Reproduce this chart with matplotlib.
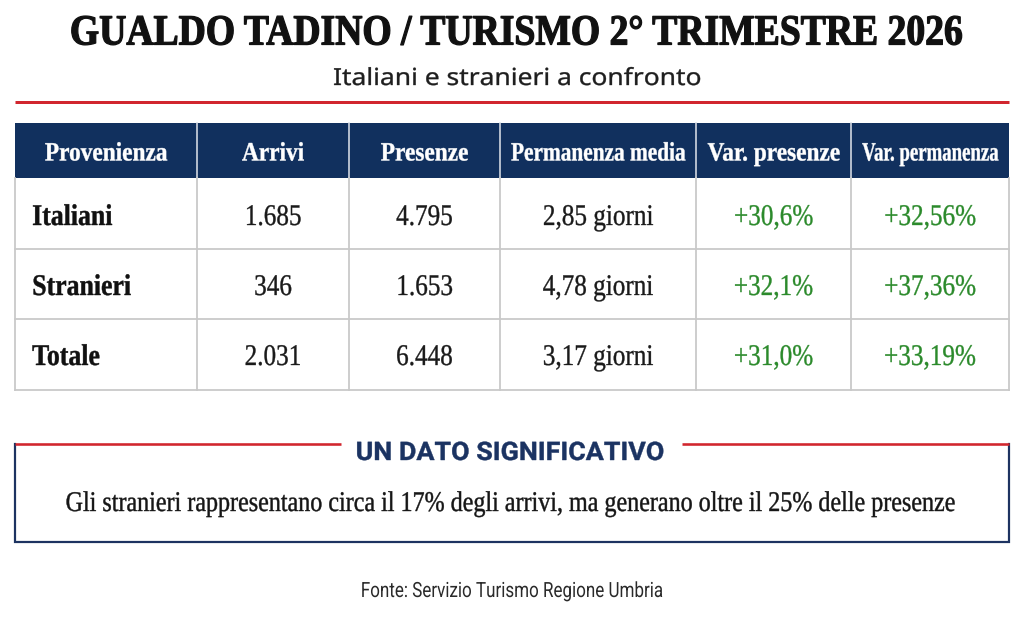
import matplotlib
matplotlib.use("Agg")
import matplotlib.pyplot as plt
from matplotlib.patches import Rectangle
from matplotlib.patheffects import AbstractPathEffect
from matplotlib.transforms import Affine2D

# ---------------- data ----------------
title = "GUALDO TADINO / TURISMO 2° TRIMESTRE 2026"
subtitle = "Italiani e stranieri a confronto"
headers = ["Provenienza", "Arrivi", "Presenze", "Permanenza media",
           "Var. presenze", "Var. permanenza"]
categories = ["Italiani", "Stranieri", "Totale"]
arrivi = [1685, 346, 2031]
presenze = [4795, 1653, 6448]
permanenza = [2.85, 4.78, 3.17]
var_presenze = [30.6, 32.1, 31.0]
var_permanenza = [32.56, 37.36, 33.19]
box_title = "UN DATO SIGNIFICATIVO"
box_text = ("Gli stranieri rappresentano circa il 17% degli arrivi, "
            "ma generano oltre il 25% delle presenze")
source = "Fonte: Servizio Turismo Regione Umbria"


def fmt_int(v):
    return f"{v:,}".replace(",", ".")


def fmt_days(v):
    return f"{v:.2f}".replace(".", ",") + " giorni"


def fmt_pct(v, d):
    return ("+" + f"{v:.{d}f}" + "%").replace(".", ",")


# ---------------- condensed text effect ----------------
class Squeeze(AbstractPathEffect):
    """Horizontally condense (and optionally embolden) the glyphs of a text.
    The text stays a normal matplotlib Text artist."""

    def __init__(self, sx=1.0, sy=1.0, width=None, maxw=None,
                 anchor="center", stroke=0.0):
        super().__init__()
        self.sx = sx
        self.sy = sy
        self.width = width
        self.maxw = maxw
        self.anchor = anchor
        self.stroke = stroke

    def draw_path(self, renderer, gc, tpath, affine, rgbFace=None):
        a2 = Affine2D().scale(1.0, self.sy) + affine
        ext = tpath.get_extents(a2)
        w = max(ext.width, 1e-6)
        s = self.sx * self.sy  # relative to the full-size glyph width
        if self.width is not None:
            s = self.width / w
        if self.maxw is not None and w * s > self.maxw:
            s = self.maxw / w
        cx = ext.x0 if self.anchor == "left" else 0.5 * (ext.x0 + ext.x1)
        tr = a2 + Affine2D().translate(-cx, 0).scale(s, 1).translate(cx, 0)
        if self.stroke > 0:
            gc0 = renderer.new_gc()
            gc0.copy_properties(gc)
            gc0.set_linewidth(self.stroke)
            gc0.set_foreground(rgbFace)
            gc0.set_joinstyle("round")
            renderer.draw_path(gc0, tpath, tr, rgbFace)
            gc0.restore()
        else:
            renderer.draw_path(gc, tpath, tr, rgbFace)


SERIF = ["Liberation Serif", "DejaVu Serif"]
SANS = ["Roboto", "DejaVu Sans"]
NAVY = "#11305e"
RED = "#d1262e"
GREEN = "#2b8a2b"
GRID = "#c9c9c9"

W, H = 1024, 630
fig = plt.figure(figsize=(W / 100, H / 100), dpi=100)
fig.patch.set_facecolor("white")
ax = fig.add_axes([0, 0, 1, 1])
ax.set_xlim(0, W)
ax.set_ylim(H, 0)
ax.axis("off")

PX = 0.72  # points per pixel at 100 dpi


def label(x, y, s, size_px, shrink=1.0, ha="center", sx=1.0, width=None,
          maxw=None, stroke=0.0, **kw):
    """size_px: rendered em size in pixels; shrink keeps the nominal
    (unsqueezed) text box small, the effect restores the glyph height."""
    return ax.text(x, y, s, ha=ha, va="baseline", fontsize=size_px * shrink * PX,
                   path_effects=[Squeeze(sx=sx, sy=1.0 / shrink, width=width,
                                         maxw=maxw, stroke=stroke,
                                         anchor="left" if ha == "left" else "center")],
                   **kw)


# ---------------- header ----------------
label(516, 44.5, title, 43, shrink=0.8, family=SERIF, weight="bold",
      color="#111111", width=890, stroke=0.9)
label(517, 85, subtitle, 23.5, family=["Noto Sans", "DejaVu Sans"],
      color="#1e1e1e", width=366, stroke=0.25)
ax.plot([15, 1009], [101.5, 101.5], color=RED, lw=3 * PX,
        solid_capstyle="butt")

# ---------------- table ----------------
col_edges = [15, 197, 349, 500, 696, 851, 1009]
head_top, head_bot = 123, 178
row_h = 70.5
row_tops = [head_bot + i * row_h for i in range(len(categories) + 1)]

ax.add_patch(Rectangle((col_edges[0], head_top), col_edges[-1] - col_edges[0],
                       head_bot - head_top, facecolor=NAVY, edgecolor="none",
                       zorder=1))
for x in col_edges[1:-1]:
    ax.plot([x, x], [head_top, head_bot], color="#d8dde6", lw=1.6 * PX,
            zorder=2)
for y in row_tops[1:]:
    ax.plot([col_edges[0], col_edges[-1]], [y, y], color=GRID, lw=1.8 * PX,
            zorder=2)
for x in col_edges:
    ax.plot([x, x], [head_bot, row_tops[-1]], color=GRID, lw=1.8 * PX,
            zorder=2)

centers = [(a + b) / 2 for a, b in zip(col_edges[:-1], col_edges[1:])]
for i, h in enumerate(headers):
    cw = col_edges[i + 1] - col_edges[i]
    label(centers[i], 160.5, h, 26.5, shrink=0.8, family=SERIF,
          weight="bold", color="white", zorder=3, sx=0.88, maxw=cw - 22,
          stroke=0.3)

for r, cat in enumerate(categories):
    base = 225 + r * 70
    label(32, base, cat, 30, ha="left", family=SERIF, weight="bold",
          color="#111111", zorder=3, sx=0.86, stroke=0.3)
    cells = [fmt_int(arrivi[r]), fmt_int(presenze[r]),
             fmt_days(permanenza[r]), fmt_pct(var_presenze[r], 1),
             fmt_pct(var_permanenza[r], 2)]
    colors = ["#1a1a1a", "#1a1a1a", "#1a1a1a", GREEN, GREEN]
    for c, (txt, colr) in enumerate(zip(cells, colors)):
        label(centers[c + 1], base, txt, 30, family=SERIF, color=colr,
              zorder=3, sx=0.84, stroke=0.25)

# ---------------- highlight box ----------------
bx0, bx1, by0, by1 = 15, 1009, 443.5, 541.5
ax.plot([bx0, bx0, bx1, bx1], [by0, by1, by1, by0], color="#1d3361",
        lw=2.2 * PX, solid_joinstyle="miter", zorder=2)
ax.plot([bx0, 341], [by0, by0], color=RED, lw=2.6 * PX,
        solid_capstyle="butt", zorder=3)
ax.plot([682, bx1], [by0, by0], color=RED, lw=2.6 * PX,
        solid_capstyle="butt", zorder=3)
label(510, 460, box_title, 25.5, family=SANS, weight="bold",
      color="#1b3362", width=306, stroke=0.3)
label(510, 511, box_text, 28.5, shrink=0.8, family=SERIF, color="#161616",
      width=888, stroke=0.3)

# ---------------- source ----------------
label(512, 597, source, 21, family=SANS, color="#2a2a2a", width=300)

fig.savefig("out.png", dpi=100, facecolor="white")
